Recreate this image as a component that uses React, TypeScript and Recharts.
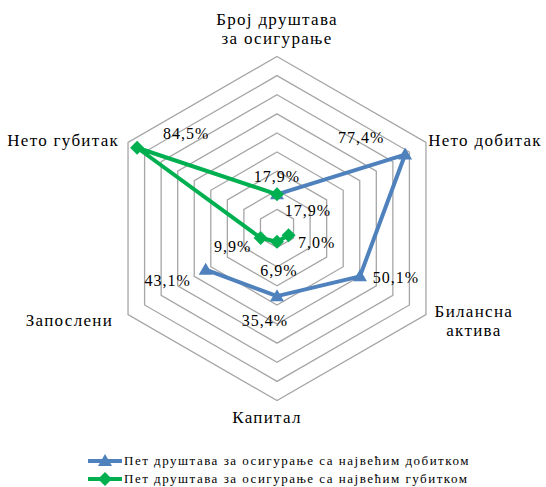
import React from "react";
import {
  Legend,
  PolarAngleAxis,
  PolarGrid,
  PolarRadiusAxis,
  Radar,
  RadarChart,
} from "recharts";

// categories, clockwise from the top
const categories = [
  "Број друштава\nза осигурање",
  "Нето добитак",
  "Билансна\nактива",
  "Капитал",
  "Запослени",
  "Нето губитак",
];

// share in the sector total, %; null = no point
const profitTop5: (number | null)[] = [17.9, 77.4, 50.1, 35.4, 43.1, null];
const lossTop5: (number | null)[] = [17.9, null, 7.0, 6.9, 9.9, 84.5];

const seriesNames = [
  "Пет друштава за осигурање са највећим добитком",
  "Пет друштава за осигурање са највећим губитком",
];

const data = categories.map((c, i) => ({
  category: c,
  profit: profitTop5[i],
  loss: lossTop5[i],
}));

const BLUE = "#4f81bd";
const GREEN = "#00b050";
const FONT = "'Liberation Serif'";

// label offsets from each point (dx, dy of text centre)
const profitLabelOffsets: [number, number][] = [
  [31, 17], [-44, -17], [36, 2], [-12, 25], [-38, 11], [0, 0],
];
const lossLabelOffsets: [number, number][] = [
  [0, -17], [0, 0], [28, 8], [2, 29], [-28, 9], [49, -14],
];

// axis label placement relative to recharts' tick position
const tickPlacement: { dx: number; dy: number; anchor: "start" | "middle" | "end" }[] = [
  { dx: 0, dy: -24, anchor: "middle" },
  { dx: 109, dy: 7, anchor: "end" },
  { dx: 41, dy: -2, anchor: "middle" },
  { dx: -10, dy: 14, anchor: "middle" },
  { dx: -8, dy: 7, anchor: "end" },
  { dx: -2, dy: 7, anchor: "end" },
];

const fmt = (v: number) => v.toFixed(1).replace(".", ",") + "%";

function Marker({ x, y, kind, color }: { x: number; y: number; kind: string; color: string }) {
  if (kind === "triangle") {
    return <path d={`M${x},${y - 7}L${x + 7},${y + 5}L${x - 7},${y + 5}Z`} fill={color} />;
  }
  return <path d={`M${x},${y - 7}L${x + 7},${y}L${x},${y + 7}L${x - 7},${y}Z`} fill={color} />;
}

function makeShape(
  values: (number | null)[],
  color: string,
  kind: string,
  offsets: [number, number][]
) {
  return (props: any) => {
    const pts = props.points || [];
    const ok = (i: number) =>
      values[i] != null && pts[i] && Number.isFinite(pts[i].x) && Number.isFinite(pts[i].y);
    let d = "";
    for (let i = 0; i < pts.length; i++) {
      const j = (i + 1) % pts.length;
      if (ok(i) && ok(j)) d += `M${pts[i].x},${pts[i].y}L${pts[j].x},${pts[j].y}`;
    }
    return (
      <g>
        <path d={d} stroke={color} strokeWidth={4} fill="none" strokeLinejoin="round" />
        {pts.map((p: any, i: number) =>
          ok(i) ? <Marker key={`m${i}`} x={p.x} y={p.y} kind={kind} color={color} /> : null
        )}
        {pts.map((p: any, i: number) =>
          ok(i) ? (
            <text
              key={`t${i}`}
              x={p.x + offsets[i][0]}
              y={p.y + offsets[i][1] + 5}
              textAnchor="middle"
              style={{ fontFamily: FONT, fontSize: 16, letterSpacing: 1 }}
              fill="#000"
            >
              {fmt(values[i] as number)}
            </text>
          ) : null
        )}
      </g>
    );
  };
}

function AngleTick(props: any) {
  const { x, y, payload, index } = props;
  const place = tickPlacement[index] || { dx: 0, dy: 0, anchor: "middle" };
  const lines = String(payload.value).split("\n");
  return (
    <text
      x={x + place.dx}
      y={y + place.dy}
      textAnchor={place.anchor}
      style={{ fontFamily: FONT, fontSize: 17, letterSpacing: 1.3 }}
      fill="#000"
    >
      {lines.map((l, i) => (
        <tspan key={i} x={x + place.dx} dy={i === 0 ? 0 : 19}>
          {l}
        </tspan>
      ))}
    </text>
  );
}

function LegendBox() {
  const colors = [BLUE, GREEN];
  const kinds = ["triangle", "diamond"];
  return (
    <div style={{ fontFamily: FONT, fontSize: 13, lineHeight: "18px" }}>
      {seriesNames.map((n, i) => (
        <div key={n} style={{ display: "flex", alignItems: "center", whiteSpace: "nowrap" }}>
          <svg width={34} height={18} style={{ marginRight: 2 }}>
            <line x1={0} y1={9} x2={34} y2={9} stroke={colors[i]} strokeWidth={4} />
            <Marker x={17} y={9} kind={kinds[i]} color={colors[i]} />
          </svg>
          <span style={{ letterSpacing: 1.5 }}>{n}</span>
        </div>
      ))}
    </div>
  );
}

export default function App() {
  return (
    <div style={{ position: "absolute", left: 0, top: 0, width: 546, height: 487, background: "#fff" }}>
      <RadarChart
        width={546}
        height={487}
        data={data}
        cx={277}
        cy={228.5}
        outerRadius={172}
        startAngle={90}
        endAngle={-270}
        margin={{ top: 0, right: 0, bottom: 0, left: 0 }}
      >
        <PolarGrid gridType="polygon" radialLines={false} stroke="#a6a6a6" strokeWidth={1.3} />
        <PolarAngleAxis dataKey="category" tick={AngleTick} tickLine={false} axisLine={false} />
        <PolarRadiusAxis domain={[0, 90]} tickCount={10} tick={false} axisLine={false} />
        <Radar
          name={seriesNames[0]}
          dataKey="profit"
          stroke={BLUE}
          fill="none"
          isAnimationActive={false}
          shape={makeShape(profitTop5, BLUE, "triangle", profitLabelOffsets)}
        />
        <Radar
          name={seriesNames[1]}
          dataKey="loss"
          stroke={GREEN}
          fill="none"
          isAnimationActive={false}
          shape={makeShape(lossTop5, GREEN, "diamond", lossLabelOffsets)}
        />
        <Legend
          content={() => <LegendBox />}
          wrapperStyle={{ position: "absolute", left: 88, top: 452, width: 458 }}
        />
      </RadarChart>
    </div>
  );
}
